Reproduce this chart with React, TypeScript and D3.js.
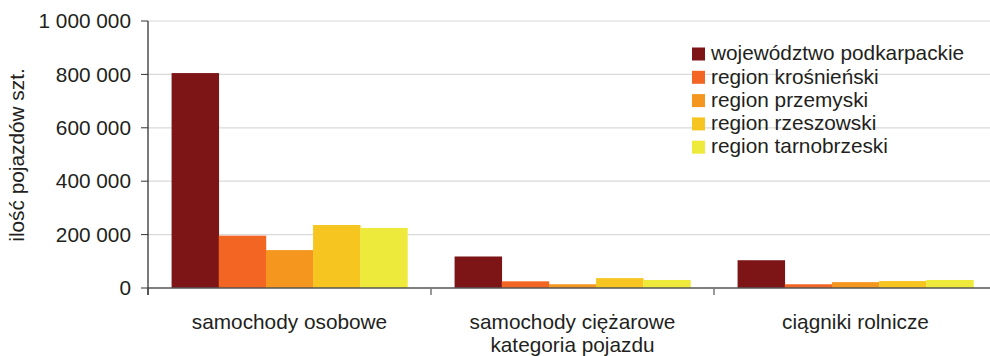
import React from "react";
import * as d3 from "d3";

const categories = ["samochody osobowe", "samochody ciężarowe", "ciągniki rolnicze"];
const seriesNames = [
  "województwo podkarpackie",
  "region krośnieński",
  "region przemyski",
  "region rzeszowski",
  "region tarnobrzeski",
];
const wojewodztwo = [805000, 118000, 104000];
const krosnienski = [196000, 25000, 14000];
const przemyski = [142000, 14000, 22000];
const rzeszowski = [236000, 37000, 26000];
const tarnobrzeski = [225000, 30000, 30000];
const seriesValues = [wojewodztwo, krosnienski, przemyski, rzeszowski, tarnobrzeski];
const colors = ["#7d1517", "#f26522", "#f5971f", "#f6c520", "#eeea3b"];
const yTicks = [0, 200000, 400000, 600000, 800000, 1000000];

const W = 990;
const H = 356;
const left = 148;
const right = 997;
const top = 21;
const bottom = 288;
const FONT = "'Liberation Sans', Arial, sans-serif";
const TXT = "#231f20";
const FS = 20.8;

export default function App() {
  const x = d3.scaleBand<string>().domain(categories).range([left, right]).paddingInner(0).paddingOuter(0);
  const inner = d3
    .scaleBand<string>()
    .domain(seriesNames)
    .range([0, x.bandwidth()])
    .paddingOuter(0.5)
    .paddingInner(0);
  const y = d3.scaleLinear().domain([0, 1000000]).range([bottom, top]);
  const fmt = (v: number) => d3.format(",")(v).replace(/,/g, " ");
  const sepXs = [left, ...categories.map((c) => (x(c) as number) + x.bandwidth())];

  return (
    <svg
      width={W}
      height={H}
      style={{ position: "absolute", left: 0, top: 0, background: "#fff" }}
      fontFamily={FONT}
    >
      {yTicks.map((t) => (
        <g key={t}>
          {t > 0 && (
            <line x1={left} x2={W} y1={y(t)} y2={y(t)} stroke="#d9d9d9" strokeWidth={1.2} />
          )}
          <line x1={left - 7} x2={left} y1={y(t)} y2={y(t)} stroke="#333" strokeWidth={1} />
          <text x={131} y={y(t)} dy="0.35em" textAnchor="end" fontSize={FS} fill={TXT}>
            {fmt(t)}
          </text>
        </g>
      ))}
      {seriesValues.map((vals, si) =>
        categories.map((c, ci) => (
          <rect
            key={si + "-" + ci}
            x={(x(c) as number) + (inner(seriesNames[si]) as number)}
            y={y(vals[ci])}
            width={inner.bandwidth() + 0.3}
            height={bottom - y(vals[ci])}
            fill={colors[si]}
          />
        ))
      )}
      <line x1={left} x2={W} y1={bottom} y2={bottom} stroke="#555" strokeWidth={1.5} />
      {sepXs.map((sx, i) => (
        <line key={i} x1={sx} x2={sx} y1={bottom} y2={bottom + 7} stroke="#777" strokeWidth={1.5} />
      ))}
      <line x1={left} x2={left} y1={top} y2={bottom + 7} stroke="#333" strokeWidth={1.3} />
      {categories.map((c) => (
        <text
          key={c}
          x={(x(c) as number) + x.bandwidth() / 2}
          y={322}
          dy="0.35em"
          textAnchor="middle"
          fontSize={FS}
          fill={TXT}
        >
          {c}
        </text>
      ))}
      <text x={(x(categories[1]) as number) + x.bandwidth() / 2} y={345} dy="0.35em" textAnchor="middle" fontSize={FS} fill={TXT}>
        kategoria pojazdu
      </text>
      <text
        transform={`translate(17,155) rotate(-90)`}
        textAnchor="middle"
        dy="0.35em"
        fontSize={FS}
        fill={TXT}
      >
        ilość pojazdów szt.
      </text>
      {seriesNames.map((s, i) => (
        <g key={s} transform={`translate(692, ${53 + i * 23.3})`}>
          <rect x={0} y={-5.5} width={13} height={13} fill={colors[i]} />
          <text x={19} y={0} dy="0.35em" fontSize={FS} fill={TXT}>
            {s}
          </text>
        </g>
      ))}
    </svg>
  );
}
